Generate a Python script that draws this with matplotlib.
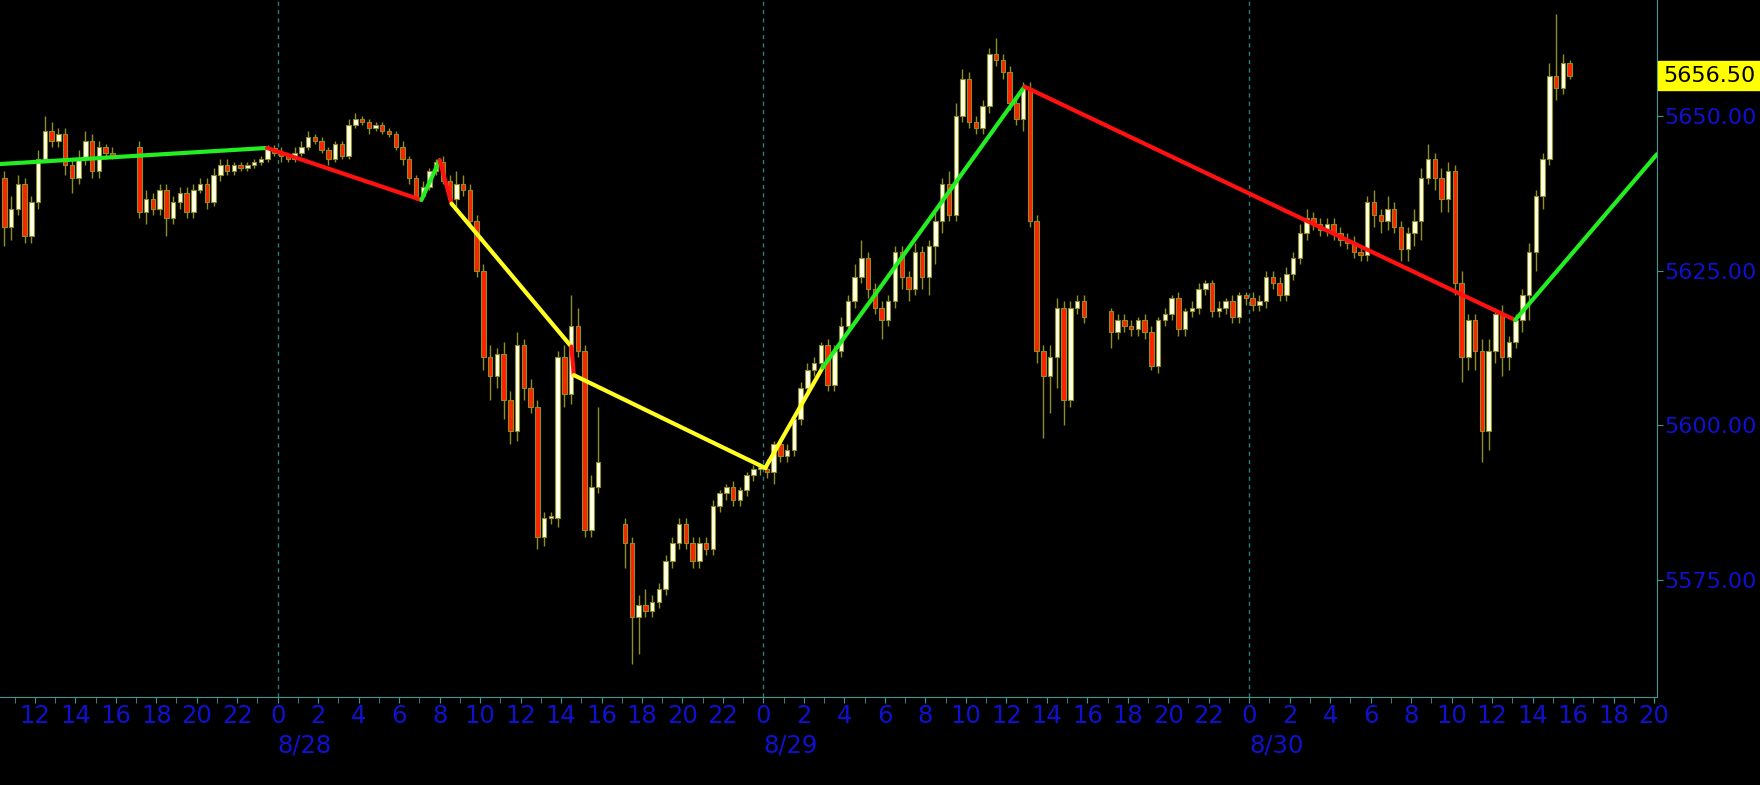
import matplotlib.pyplot as plt
import numpy as np
from matplotlib.transforms import blended_transform_factory

# 20-minute bars, time in hours counted from 8/27 00:00 (16:00-17:00 break skipped)
session_start = [10 + 1/3, 17, 41, 65]
session_open = [5640, 5645, 5584, 5618.5]

close_827 = [5632, 5635, 5639, 5630.5, 5636, 5643, 5647.5, 5646, 5647, 5642,
             5640, 5643, 5646, 5641, 5645, 5644, 5643.5]
close_828 = [5634.5, 5636.5, 5635, 5638, 5633.5, 5636, 5637.5, 5634.5, 5638, 5639,
             5636, 5640.5, 5642, 5641, 5642, 5641.5, 5642, 5642.5, 5643, 5644.8,
             5644, 5643.5, 5643, 5644, 5645, 5646.5, 5646, 5644.5, 5643, 5645.5,
             5643.5, 5648.5, 5649.5, 5649, 5648, 5648.5, 5647.5, 5647, 5645, 5643,
             5640, 5637, 5638.5, 5641, 5642.5, 5639.5, 5636.5, 5639, 5638, 5633,
             5625, 5611, 5608, 5611.5, 5604, 5599, 5613, 5606, 5603, 5582,
             5585, 5585, 5611, 5605, 5616, 5612, 5583, 5590, 5594]
close_829 = [5581, 5569, 5571, 5570, 5571.5, 5573.5, 5578, 5581, 5584, 5581,
             5578, 5581, 5580, 5587, 5589, 5590, 5588, 5589.5, 5592, 5593,
             5593, 5592.5, 5597, 5595, 5596, 5601, 5606, 5609, 5610, 5613,
             5606.5, 5612, 5616, 5620, 5624, 5627, 5622, 5619, 5617, 5620,
             5628, 5624, 5622, 5628, 5624, 5629, 5633, 5639, 5634, 5650,
             5656, 5649, 5648, 5651.5, 5660, 5659, 5657, 5652, 5649.5, 5654.5,
             5633, 5612, 5608, 5611, 5619, 5604, 5619, 5620, 5617.5]
close_830 = [5615, 5617, 5616, 5615.5, 5617, 5615, 5609.5, 5617, 5618, 5620.5,
             5615.5, 5618.5, 5619, 5622, 5623, 5618.5, 5619, 5620, 5617.5, 5621,
             5620.5, 5619.5, 5620, 5624, 5623, 5621, 5624.5, 5627, 5631, 5633.5,
             5632.5, 5631.5, 5632.5, 5631, 5630, 5629.5, 5628, 5627.5, 5636, 5634,
             5633, 5635, 5632, 5628.5, 5631, 5633, 5640, 5643, 5640, 5636.5,
             5641, 5623, 5611, 5617, 5612, 5599, 5612, 5618, 5611, 5613.5,
             5617, 5621, 5628, 5637, 5643, 5656.5, 5654.5, 5658.5, 5656.5]

wick_up = [1, 2, 1.5, 1, 1, 1.5, 2.5, 1.5, 1, 1, 1, 1.5, 1.5, 1, 1, 0.5, 1,
           1, 1.5, 1, 1, 1, 1, 1, 1, 1, 1, 1, 1, 1, 1, 0.5, 0.5, 0.5, 0.5, 0.5, 0.5,
           0.5, 1, 0.5, 1, 1, 1, 0.5, 0.5, 0.5, 0.5, 0.5, 1, 1, 0.5, 0.5, 0.5, 0.5, 0.5, 0.5, 1,
           0.5, 0.5, 1, 0.5, 0.5, 1, 1, 2, 1.5, 1, 1, 1, 2, 1, 2, 1.5, 2, 1, 1.5, 1,
           1, 1, 1, 2, 5, 3, 1, 2, 9,
           1, 1, 1.5, 2.5, 1, 1, 1, 1, 1, 1, 1, 1, 1, 1, 0.5, 0.5, 1, 0.5, 0.5, 0.5,
           0.5, 1.5, 0.5, 1, 1, 0.5, 1, 1, 1, 0.5, 1, 1, 1.5, 1, 2, 3, 1, 1, 1, 1,
           1, 1, 1, 1.5, 1, 1, 1.5, 1, 2, 2, 1.5, 1, 1, 1, 1, 2.5, 1, 1, 1, 1,
           1, 1, 1, 2, 1.5, 1, 1, 1, 1,
           0.5, 1, 1, 1, 0.5, 1, 1, 0.5, 1, 0.5, 1, 0.5, 1, 1, 0.5, 0.5, 1, 0.5, 1, 0.5,
           0.5, 1, 1, 1, 1, 1, 1, 1, 1.5, 1.5, 1, 1, 1, 1, 1, 1, 1, 1, 1, 2,
           1, 2, 1, 1, 1, 2, 1.5, 2.5, 1, 1.5, 1.5, 1, 2, 1, 1, 2, 2, 1, 1.5, 1,
           1, 1, 1.5, 1, 1, 2, 10, 1.5, 0.5]
wick_dn = [3, 2, 1, 1, 1, 1, 0.5, 1, 1, 1.5, 2.5, 1, 1, 1, 1, 1, 0.5,
           1, 2, 1, 1, 3, 1, 1, 1, 1, 0.5, 1, 0.5, 1, 0.5, 0.5, 0.5, 0.5, 0.5, 0.5, 0.5,
           0.5, 1, 0.5, 0.5, 0.5, 0.5, 0.5, 0.5, 1, 0.5, 0.5, 0.5, 0.5, 0.5, 1, 0.5, 0.5, 0.5, 0.5, 1,
           1, 0.6, 0.5, 0.5, 0.5, 0.5, 0.5, 1, 1, 1, 1, 2, 4, 2, 3, 2, 1.5, 2, 1, 2,
           1.5, 1, 1.5, 2, 1.5, 1, 1, 1, 1,
           4, 7.5, 6, 1, 1, 1, 1, 1, 1, 1, 1, 1, 1, 1, 1, 1, 1, 1, 1, 1,
           1, 1, 2, 1, 1, 1, 1, 1, 1, 1, 1, 1, 1, 1, 1, 1, 1.5, 1, 3, 1,
           1, 2, 2, 1, 2, 3, 3, 2, 1, 1, 1, 1, 1, 1, 1, 1, 1, 1, 1, 2,
           1, 2, 10, 6, 5, 4, 1, 1, 1,
           2.5, 1, 1, 1, 1, 1, 0.5, 1, 1, 1, 1, 1, 1, 1, 1, 1, 1, 1, 1, 1,
           1, 1, 1, 1, 1, 1, 1, 1, 1, 1, 1, 1, 1, 1, 1, 1, 1, 1, 1, 2,
           2, 1.5, 1, 2, 2, 2, 3, 1, 2, 2, 2, 2, 4, 2, 3, 5, 3, 2, 3, 2,
           1, 2, 4, 3, 2, 1, 2, 1, 0.5]

# zigzag pivots (hour, price) and colour of each leg
zz_t = [10.28, 23.47, 31.1, 32.0, 32.59, 38.51, 38.63, 48.09, 50.92, 60.9, 85.14, 92.15]
zz_p = [5642.2, 5644.8, 5636.4, 5642.8, 5635.8, 5612.7, 5608.1, 5593.1, 5609.3, 5654.7, 5617.0, 5643.8]
zz_c = ['#22EE22', '#FF1111', '#22EE22', '#FF1111', '#FFFF22', '#FF1111',
        '#FFFF22', '#FFFF22', '#22EE22', '#FF1111', '#22EE22']

last_price = 5656.5
y_ticks = [5575, 5600, 5625, 5650]
day_starts = [24, 48, 72]
day_labels = ['8/28', '8/29', '8/30']

# build bars
t, o, c = [], [], []
for start, op, cl in zip(session_start, session_open,
                         [close_827, close_828, close_829, close_830]):
    t.extend(start + (np.arange(len(cl)) + 0.5) / 3)
    o.extend([op] + cl[:-1])
    c.extend(cl)
t, o, c = np.array(t), np.array(o), np.array(c)
hi = np.maximum(o, c) + np.array(wick_up)
lo = np.minimum(o, c) - np.array(wick_dn)

blue = '#1010D0'
teal = '#3C9696'
olive = '#8E8E24'

fig = plt.figure(figsize=(17.6, 7.85), dpi=100, facecolor='black')
ax = fig.add_axes([0, 0.1121, 0.9415, 0.8879], facecolor='black')

for d in day_starts:
    ax.axvline(d, color='#2E7C7C', lw=1, ls=(0, (3, 3)), zorder=1)

ax.vlines(t, lo, hi, color=olive, lw=1, zorder=2)
up = c >= o
ax.bar(t[up], np.maximum(c - o, 0.3)[up], bottom=o[up], width=0.22,
       color='#FFFFE8', edgecolor=olive, lw=0.8, zorder=3)
ax.bar(t[~up], (o - c)[~up], bottom=c[~up], width=0.22,
       color='#FF2200', edgecolor=olive, lw=0.8, zorder=3)

for i, col in enumerate(zz_c):
    ax.plot(zz_t[i:i + 2], zz_p[i:i + 2], color=col, lw=3, zorder=4,
            solid_capstyle='round')

ax.set_xlim(10.28, 92.15)
ax.set_ylim(5556.1, 5668.7)

for s in ['top', 'left']:
    ax.spines[s].set_visible(False)
for s in ['right', 'bottom']:
    ax.spines[s].set_color(teal)

ax.set_xticks(range(12, 93, 2))
ax.set_xticklabels([str(h % 24) for h in range(12, 93, 2)])
ax.set_xticks(range(11, 93), minor=True)
ax.tick_params(axis='x', which='both', colors=teal, labelcolor=blue,
               length=4, pad=1, labelsize=17.5)

ax.yaxis.tick_right()
ax.set_yticks(y_ticks)
ax.set_yticklabels(['%.2f' % v for v in y_ticks])
ax.tick_params(axis='y', colors=teal, labelcolor=blue, length=4, pad=1,
               labelsize=16)

tr = blended_transform_factory(ax.transData, ax.transAxes)
for d, lab in zip(day_starts, day_labels):
    ax.text(d, -0.053, lab, transform=tr, color=blue, fontsize=17.5,
            ha='left', va='top')

tr2 = blended_transform_factory(ax.transAxes, ax.transData)
ax.text(1.0035, last_price, '%.2f' % last_price, transform=tr2, color='black',
        fontsize=16, ha='left', va='center', clip_on=False,
        bbox=dict(boxstyle='square,pad=0.2', facecolor='#FFFF00', edgecolor='#FFFF00'))

fig.savefig('out.png', dpi=100, facecolor='black')
